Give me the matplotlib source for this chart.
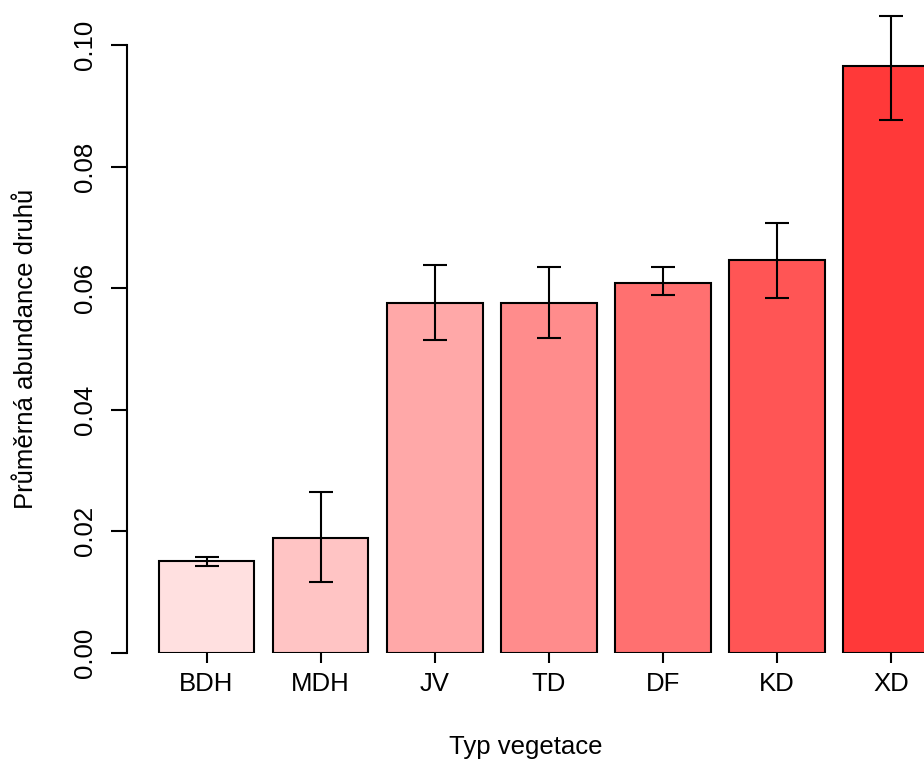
import numpy as np
import matplotlib
matplotlib.use("Agg")
import matplotlib.pyplot as plt

plt.rcParams['font.family'] = ['Liberation Sans', 'DejaVu Sans']

# data
typy = ["BDH", "MDH", "JV", "TD", "DF", "KD", "XD"]
prumer = [0.0151, 0.0189, 0.0576, 0.0576, 0.0609, 0.0646, 0.0965]
horni = [0.0158, 0.0264, 0.0638, 0.0635, 0.0635, 0.0707, 0.1048]
dolni = [0.0143, 0.0117, 0.0515, 0.0518, 0.0589, 0.0584, 0.0877]
barvy = ["#FFE0E0", "#FFC4C4", "#FFA8A8", "#FF8C8C", "#FF7070", "#FF5555", "#FF3939"]

W, H = 924, 760
fig = plt.figure(figsize=(W / 100, H / 100), dpi=100)
# axes box in pixels: left 127, right 924, top 45, bottom 653
ax = fig.add_axes([127 / W, (H - 653) / H, (924 - 127) / W, (653 - 45) / H])

x = np.arange(len(typy))
ax.bar(x, prumer, width=0.84, color=barvy, edgecolor="black", linewidth=1.5)

pr = np.array(prumer)
yerr = np.vstack([pr - np.array(dolni), np.array(horni) - pr])
ax.errorbar(x, prumer, yerr=yerr, fmt="none", ecolor="black", elinewidth=1.5,
            capsize=8.5, capthick=1.5, clip_on=False)

ax.set_xlim(-0.697, 6.29)
ax.set_ylim(0, 0.1)

for s in ["top", "right", "bottom"]:
    ax.spines[s].set_visible(False)
ax.spines["left"].set_linewidth(1.5)
ax.spines["left"].set_bounds(0, 0.1)

ax.set_yticks([0.0, 0.02, 0.04, 0.06, 0.08, 0.10])
ax.set_yticklabels(["0.00", "0.02", "0.04", "0.06", "0.08", "0.10"],
                   rotation=90, va="center")
ax.set_xticks(x)
ax.set_xticklabels(typy)
ax.tick_params(axis="y", length=11.5, width=1.5, labelsize=18.5, pad=10)
ax.tick_params(axis="x", length=7, width=1.5, labelsize=18.5, pad=7)

ax.set_xlabel("Typ vegetace", fontsize=18.5, labelpad=28)
ax.set_ylabel("Průměrná abundance druhů", fontsize=18.5, labelpad=25)

fig.savefig("out.png", dpi=100)
